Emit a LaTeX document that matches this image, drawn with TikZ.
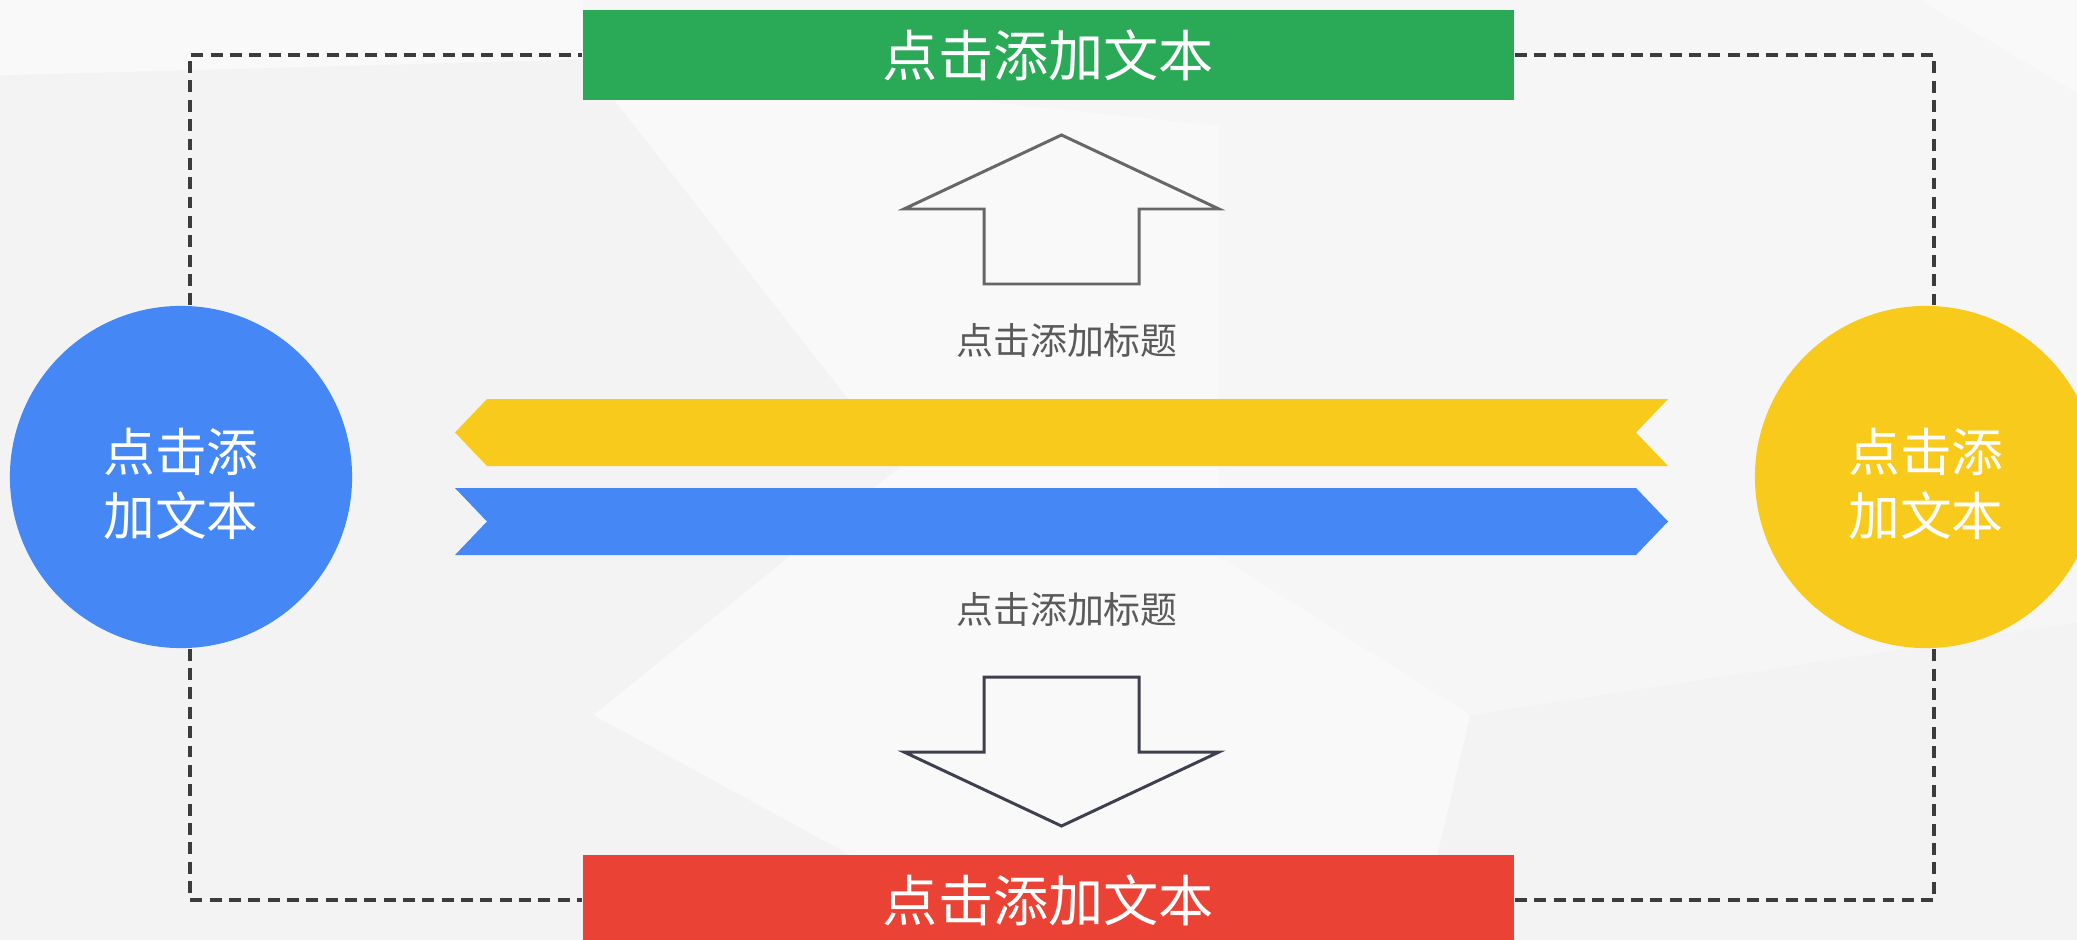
\documentclass[tikz,border=0pt]{standalone}
\usepackage{fontspec}
\newfontfamily\cjk{Noto Sans CJK SC}
\usetikzlibrary{positioning}

\definecolor{grn}{RGB}{42,169,86}
\definecolor{blu}{RGB}{68,135,245}
\definecolor{yel}{RGB}{248,202,28}
\definecolor{rd}{RGB}{234,67,53}
\definecolor{upgray}{RGB}{103,103,103}
\definecolor{downgray}{RGB}{62,64,80}
\definecolor{labelgray}{RGB}{90,90,90}
\definecolor{guidegray}{RGB}{60,60,60}
\definecolor{bgbase}{RGB}{246,246,247}
\definecolor{bglight}{RGB}{249,249,250}
\definecolor{bgdark}{RGB}{243,243,244}

\tikzset{
  textbar/.style={fill=#1, text=white, minimum width=9.31cm, minimum height=0.89cm, inner sep=0pt, font=\cjk\fontsize{15.7}{18}\selectfont},
  disc/.style={circle, fill=#1, minimum size=3.42cm, inner sep=0pt},
  disctext/.style={text=white, inner sep=0pt, align=center, font=\cjk\fontsize{14.7}{18.2}\selectfont},
  headline/.style={text=labelgray, inner sep=0pt, font=\cjk\fontsize{10.5}{12}\selectfont},
  guide/.style={draw=guidegray, line width=0.9pt, dash pattern=on 3.4pt off 2.1pt},
  outline/.style={line width=0.85pt}
}

\begin{document}
\begin{tikzpicture}[x=0.01cm, y=-0.01cm]
  \useasboundingbox (0,0) rectangle (2077,940);
  \clip (0,0) rectangle (2077,940);

  % background
  \fill[bgbase] (0,0) rectangle (2077,940);
  \begin{scope}[scale=1.3246]
    \fill[bglight] (0,0) -- (440,0) -- (440,45) -- (0,57) -- cycle;
    \fill[bgdark] (0,57) -- (440,45) -- (680,352) -- (448,540) -- (316,578) -- (0,620) -- cycle;
    \fill[bglight] (440,45) -- (920,95) -- (920,420) -- (680,352) -- cycle;
    \fill[bglight] (680,352) -- (920,420) -- (1110,540) -- (1070,710) -- (760,710) -- (448,540) -- cycle;
    \fill[bgdark] (0,620) -- (316,578) -- (448,540) -- (760,710) -- (0,710) -- cycle;
    \fill[bgdark] (1110,540) -- (1568,470) -- (1568,710) -- (1070,710) -- cycle;
    \fill[bglight] (1450,0) -- (1568,0) -- (1568,70) -- cycle;
  \end{scope}

  % ribbons
  \fill[yel] (487,399) -- (1668,399) -- (1636,432.5) -- (1668,466) -- (487,466) -- (455,432.5) -- cycle;
  \fill[blu] (455,488) -- (1636,488) -- (1668,521.5) -- (1636,555) -- (455,555) -- (487,521.5) -- cycle;

  % arrows
  \draw[outline, draw=upgray] (1061.5,135) -- (1219,209) -- (1139,209) -- (1139,284) -- (984,284) -- (984,209) -- (904,209) -- cycle;
  \draw[outline, draw=downgray] (1061.5,826) -- (1219,752) -- (1139,752) -- (1139,677) -- (984,677) -- (984,752) -- (904,752) -- cycle;

  \node[textbar=grn]      (box top)      at (1048.5,55)  {点击添加文本};
  \node[textbar=rd]       (box bottom)   at (1048.5,900) {点击添加文本};
  \node[disc=blu]         (circle left)  at (181,477)    {};
  \node[disc=yel]         (circle right) at (1926,477)   {};
  \node[disctext]         (text left)    at (181,484)    {点击添\\加文本};
  \node[disctext]         (text right)   at (1926,484)   {点击添\\加文本};
  \node[headline]         (title up)     at (1067,340)   {点击添加标题};
  \node[headline]         (title down)   at (1067,609)   {点击添加标题};

  \draw[guide] ([xshift=0.09cm]circle left.north) |- (box top.west);
  \draw[guide] ([xshift=0.09cm]circle left.south) |- (box bottom.west);
  \draw[guide] (box top.east) -| ([xshift=0.08cm]circle right.north);
  \draw[guide] (box bottom.east) -| ([xshift=0.08cm]circle right.south);
\end{tikzpicture}
\end{document}
